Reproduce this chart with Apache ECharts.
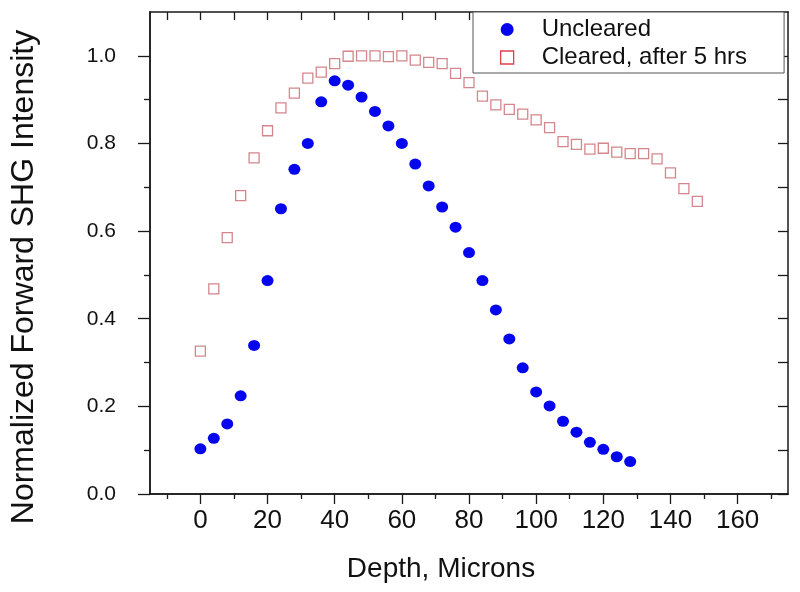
<!DOCTYPE html>
<html>
<head>
<meta charset="utf-8">
<script src="https://cdn.jsdelivr.net/npm/echarts@6/dist/echarts.min.js"></script>
<style>html,body{margin:0;padding:0;background:#fff;}#c{width:800px;height:592px;}</style>
</head>
<body>
<div id="c"></div>
<script>
const depthUncleared = [0,4,8,12,16,20,24,28,32,36,40,44,48,52,56,60,64,68,72,76,80,84,88,92,96,100,104,108,112,116,120,124,128];
const unclearedValues = [0.103,0.127,0.160,0.224,0.339,0.487,0.651,0.741,0.800,0.895,0.943,0.933,0.906,0.873,0.840,0.800,0.753,0.703,0.655,0.609,0.551,0.487,0.420,0.354,0.288,0.233,0.201,0.166,0.141,0.118,0.102,0.085,0.074];
const depthCleared = [0,4,8,12,16,20,24,28,32,36,40,44,48,52,56,60,64,68,72,76,80,84,88,92,96,100,104,108,112,116,120,124,128,132,136,140,144,148];
const clearedValues = [0.326,0.468,0.585,0.681,0.767,0.829,0.881,0.915,0.949,0.963,0.982,0.999,1.000,1.000,0.998,1.000,0.990,0.985,0.982,0.960,0.939,0.908,0.888,0.878,0.867,0.854,0.836,0.804,0.798,0.787,0.789,0.780,0.777,0.777,0.765,0.733,0.697,0.668];
const xMajorTicks = [0,20,40,60,80,100,120,140,160];
const xMinorTicks = [-10,10,30,50,70,90,110,130,150,170];
const xTopTicks = [-10,0,10,20,30,40,50,60,70,80,90,100,110,120,130,140,150,160,170];
const yMajorTicks = [0,0.2,0.4,0.6,0.8,1.0];
const yMinorTicks = [0.1,0.3,0.5,0.7,0.9];
const yRightTicks = [0,0.1,0.2,0.3,0.4,0.5,0.6,0.7,0.8,0.9,1.0];
const seriesNames = ['Uncleared','Cleared, after 5 hrs'];

const FONT = "'Liberation Sans', Arial, sans-serif";
const AXC = '#1a1a1a';
const X_MIN = -15, X_MAX = 175, Y_MIN = 0, Y_MAX = 1.1;

function pairs(xs, ys){ return xs.map((x,i)=>[x, ys[i]]); }

const chart = echarts.init(document.getElementById('c'));
const baseX = {type:'value', min:X_MIN, max:X_MAX, splitLine:{show:false}, axisLine:{show:true, onZero:false, lineStyle:{color:AXC, width:1.5}}};
const baseY = {type:'value', min:Y_MIN, max:Y_MAX, splitLine:{show:false}, axisLine:{show:true, onZero:false, lineStyle:{color:AXC, width:1.5}}};

chart.setOption({
  animation:false,
  backgroundColor:'#fff',
  grid:{left:150, right:12, top:12, bottom:98, containLabel:false},
  legend:{
    orient:'vertical', left:473, top:12,
    padding:[5,37,3,27],
    itemGap:3, itemWidth:13, itemHeight:13,
    backgroundColor:'#fff', borderColor:'#555', borderWidth:1,
    textStyle:{fontFamily:FONT, fontSize:24, color:'#111', lineHeight:25, padding:[0,0,0,23]},
    data:[
      {name:seriesNames[0]},
      {name:seriesNames[1], itemStyle:{color:'rgba(0,0,0,0)', borderColor:'#e0404c', borderWidth:1.3}}
    ]
  },
  xAxis:[
    Object.assign({}, baseX, {position:'bottom',
      name:'Depth, Microns', nameLocation:'middle', nameGap:61,
      nameTextStyle:{fontFamily:FONT, fontSize:28, color:'#111', padding:[0,56,0,0]},
      axisTick:{show:true, inside:false, length:10, customValues:xMajorTicks, lineStyle:{color:AXC, width:1.3}},
      axisLabel:{show:true, customValues:xMajorTicks, margin:14, fontFamily:FONT, fontSize:26, color:'#111'}}),
    Object.assign({}, baseX, {position:'bottom',
      axisTick:{show:true, inside:false, length:5, customValues:xMinorTicks, lineStyle:{color:AXC, width:1.3}},
      axisLabel:{show:false}}),
    Object.assign({}, baseX, {position:'top',
      axisTick:{show:true, inside:true, length:8, customValues:xTopTicks, lineStyle:{color:AXC, width:1.3}},
      axisLabel:{show:false}})
  ],
  yAxis:[
    Object.assign({}, baseY, {position:'left',
      name:'Normalized Forward SHG Intensity', nameLocation:'middle', nameGap:110, nameRotate:90,
      nameTextStyle:{fontFamily:FONT, fontSize:32, color:'#111', padding:[0,48,0,0]},
      axisTick:{show:true, inside:false, length:12, customValues:yMajorTicks, lineStyle:{color:AXC, width:1.3}},
      axisLabel:{show:true, customValues:yMajorTicks, margin:34, fontFamily:FONT, fontSize:21, color:'#111',
        formatter:(v)=>Number(v).toFixed(1)}}),
    Object.assign({}, baseY, {position:'left',
      axisTick:{show:true, inside:false, length:6, customValues:yMinorTicks, lineStyle:{color:AXC, width:1.3}},
      axisLabel:{show:false}}),
    Object.assign({}, baseY, {position:'right',
      axisTick:{show:true, inside:true, length:10, customValues:yRightTicks, lineStyle:{color:AXC, width:1.3}},
      axisLabel:{show:false}})
  ],
  series:[
    {name:seriesNames[0], type:'scatter', xAxisIndex:0, yAxisIndex:0,
      symbol:'circle', symbolSize:[12,11],
      itemStyle:{color:'#0505ee', opacity:1},
      data:pairs(depthUncleared, unclearedValues)},
    {name:seriesNames[1], type:'scatter', xAxisIndex:0, yAxisIndex:0,
      symbol:'rect', symbolSize:10,
      itemStyle:{color:'rgba(0,0,0,0)', borderColor:'#d4868c', borderWidth:1.3, opacity:1},
      data:pairs(depthCleared, clearedValues)}
  ]
});
</script>
</body>
</html>
